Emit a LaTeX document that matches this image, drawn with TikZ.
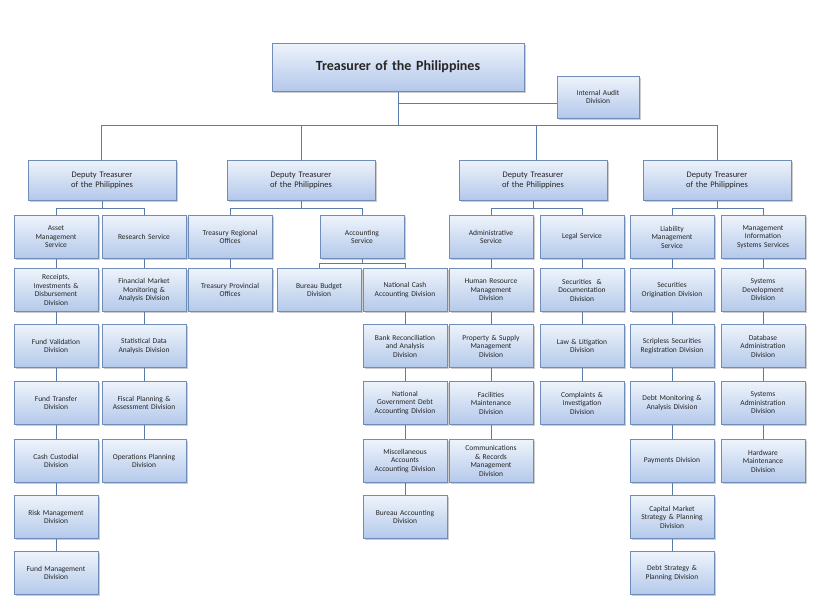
\documentclass[tikz,border=0pt]{standalone}
\usepackage{fontspec}
\setmainfont{Carlito}
\usetikzlibrary{shadows}
\definecolor{bd}{HTML}{6F8DB8}
\definecolor{tp}{HTML}{EEF3FB}
\definecolor{bt}{HTML}{B3C8EA}
\definecolor{ln}{HTML}{5A7CA8}
\begin{document}
\begin{tikzpicture}[x=1pt,y=-1pt,
 box/.style={draw=bd,top color=tp,bottom color=bt,minimum width=84pt,minimum height=43pt,text width=80pt,align=center,inner sep=1pt,font=\fontsize{7.5}{8.5}\selectfont,text=black!85,drop shadow={shadow xshift=1.5pt,shadow yshift=-1.5pt,opacity=0.4}},
 dep/.style={box,minimum width=148pt,minimum height=40pt,text width=140pt,font=\fontsize{8.5}{10}\selectfont},
 con/.style={draw=ln,line width=0.8pt}]
\useasboundingbox (0,0) rectangle (820,614);
% connectors
\draw[con] (398,92) -- (398,125);
\draw[con] (398,103) -- (557,103);
\draw[con] (101,160) -- (101,125) -- (717,125) -- (717,160);
\draw[con] (301,125) -- (301,160);
\draw[con] (536,125) -- (536,160);
\draw[con] (56,216) -- (56,208) -- (144,208) -- (144,216); \draw[con] (102,200)--(102,208);
\draw[con] (230,216) -- (230,208) -- (362,208) -- (362,216); \draw[con] (301,200)--(301,208);
\draw[con] (491,216) -- (491,208) -- (582,208) -- (582,216); \draw[con] (533,200)--(533,208);
\draw[con] (672,216) -- (672,208) -- (763,208) -- (763,216); \draw[con] (717,200)--(717,208);
\draw[con] (362,259) -- (362,263); \draw[con] (319,268) -- (319,263) -- (405,263) -- (405,268);
\foreach \x/\a/\b in {56/237/573,144/237/461,230/237/290,405/290/517,491/237/461,582/237/403,672/237/573,763/237/461}
  \draw[con] (\x,\a) -- (\x,\b);
% top
\node[box,minimum width=252pt,minimum height=48pt,text width=240pt,font=\fontsize{14}{16}\bfseries] (top) at (398,67) {Treasurer of the Philippines};
\node[box,minimum width=82pt,minimum height=42pt,text width=76pt] (ia) at (598,97) {Internal Audit\\Division};
\node[dep] (d1) at (102,180) {Deputy Treasurer\\of the Philippines};
\node[dep] (d2) at (301,180) {Deputy Treasurer\\of the Philippines};
\node[dep] (d3) at (533,180) {Deputy Treasurer\\of the Philippines};
\node[dep] (d4) at (717,180) {Deputy Treasurer\\of the Philippines};
\begin{scope}[every node/.append style={font=\fontsize{8.5}{10}\selectfont}]
\node[box] (s1) at (56,237) {Asset\\Management\\Service};
\node[box] (s2) at (144,237) {Research Service};
\node[box] (s3) at (230,237) {Treasury Regional\\Offices};
\node[box] (s4) at (362,237) {Accounting\\Service};
\node[box] (s5) at (491,237) {Administrative\\Service};
\node[box] (s6) at (582,237) {Legal Service};
\node[box] (s7) at (672,237) {Liability\\Management\\Service};
\node[box] (s8) at (763,237) {Management\\Information\\Systems Services};
\end{scope}
% column 1
\node[box] (a1) at (56,290) {Receipts,\\Investments \&\\Disbursement\\Division};
\node[box] (a2) at (56,346) {Fund Validation\\Division};
\node[box] (a3) at (56,403) {Fund Transfer\\Division};
\node[box] (a4) at (56,461) {Cash Custodial\\Division};
\node[box] (a5) at (56,517) {Risk Management\\Division};
\node[box] (a6) at (56,573) {Fund Management\\Division};
\node[box] (r1) at (144,290) {Financial Market\\Monitoring \&\\Analysis Division};
\node[box] (r2) at (144,346) {Statistical Data\\Analysis Division};
\node[box] (r3) at (144,403) {Fiscal Planning \&\\Assessment Division};
\node[box] (r4) at (144,461) {Operations Planning\\Division};
\node[box] (t1) at (230,290) {Treasury Provincial\\Offices};
\node[box] (b1) at (319,290) {Bureau Budget\\Division};
\node[box] (n1) at (405,290) {National Cash\\Accounting Division};
\node[box] (n2) at (405,346) {Bank Reconciliation\\and Analysis\\Division};
\node[box] (n3) at (405,403) {National\\Government Debt\\Accounting Division};
\node[box] (n4) at (405,461) {Miscellaneous\\Accounts\\Accounting Division};
\node[box] (n5) at (405,517) {Bureau Accounting\\Division};
\node[box] (h1) at (491,290) {Human Resource\\Management\\Division};
\node[box] (h2) at (491,346) {Property \& Supply\\Management\\Division};
\node[box] (h3) at (491,403) {Facilities\\Maintenance\\Division};
\node[box] (h4) at (491,461) {Communications\\\& Records\\Management\\Division};
\node[box] (l1) at (582,290) {Securities ~\&\\Documentation\\Division};
\node[box] (l2) at (582,346) {Law \& Litigation\\Division};
\node[box] (l3) at (582,403) {Complaints \&\\Investigation\\Division};
\node[box] (m1) at (672,290) {Securities\\Origination Division};
\node[box] (m2) at (672,346) {Scripless Securities\\Registration Division};
\node[box] (m3) at (672,403) {Debt Monitoring \&\\Analysis Division};
\node[box] (m4) at (672,461) {Payments Division};
\node[box] (m5) at (672,517) {Capital Market\\Strategy \& Planning\\Division};
\node[box] (m6) at (672,573) {Debt Strategy \&\\Planning Division};
\node[box] (y1) at (763,290) {Systems\\Development\\Division};
\node[box] (y2) at (763,346) {Database\\Administration\\Division};
\node[box] (y3) at (763,403) {Systems\\Administration\\Division};
\node[box] (y4) at (763,461) {Hardware\\Maintenance\\Division};
\end{tikzpicture}
\end{document}
